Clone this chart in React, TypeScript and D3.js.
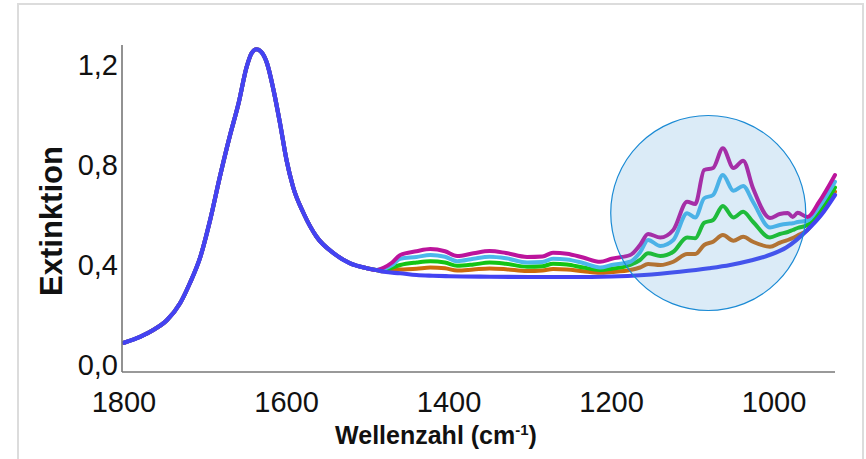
import React from "react";
import * as d3 from "d3";

// Shared band (Amide region) – all spectra coincide here
const commonWn = [1800, 1780, 1764, 1747, 1731, 1719, 1706, 1694, 1682, 1670, 1659, 1649, 1643, 1637, 1631, 1624, 1616, 1608, 1600, 1592, 1579, 1563, 1542, 1522, 1501, 1490];
const commonExt = [0.089, 0.113, 0.14, 0.18, 0.247, 0.327, 0.433, 0.58, 0.753, 0.913, 1.047, 1.193, 1.247, 1.263, 1.252, 1.207, 1.10, 0.967, 0.82, 0.713, 0.607, 0.513, 0.447, 0.407, 0.387, 0.38];

// Tail wavenumbers for the four coloured spectra
const tailWn = [1480, 1470, 1460, 1440, 1423, 1405, 1390, 1370, 1350, 1330, 1304, 1285, 1272, 1255, 1235, 1214, 1200, 1177, 1165, 1155, 1140, 1124, 1107, 1097, 1086, 1075, 1063, 1050, 1038, 1026, 1005, 993, 983, 977, 971, 959, 945, 925];
const magentaTail = [0.39, 0.41, 0.44, 0.455, 0.464, 0.455, 0.436, 0.447, 0.456, 0.448, 0.432, 0.434, 0.449, 0.445, 0.43, 0.413, 0.425, 0.44, 0.48, 0.524, 0.51, 0.54, 0.653, 0.644, 0.78, 0.788, 0.867, 0.788, 0.817, 0.708, 0.588, 0.604, 0.608, 0.592, 0.609, 0.592, 0.65, 0.76];
const lightBlueTail = [0.385, 0.40, 0.425, 0.432, 0.44, 0.433, 0.415, 0.425, 0.433, 0.427, 0.41, 0.412, 0.425, 0.422, 0.408, 0.39, 0.40, 0.413, 0.45, 0.50, 0.476, 0.50, 0.607, 0.59, 0.667, 0.68, 0.76, 0.697, 0.716, 0.653, 0.55, 0.56, 0.565, 0.567, 0.572, 0.577, 0.63, 0.733];
const greenTail = [0.378, 0.39, 0.40, 0.41, 0.415, 0.41, 0.397, 0.402, 0.41, 0.405, 0.393, 0.395, 0.405, 0.402, 0.39, 0.38, 0.385, 0.40, 0.42, 0.447, 0.436, 0.453, 0.51, 0.507, 0.569, 0.58, 0.636, 0.59, 0.613, 0.573, 0.51, 0.524, 0.532, 0.54, 0.548, 0.56, 0.61, 0.71];
const orangeTail = [0.375, 0.38, 0.382, 0.385, 0.39, 0.387, 0.378, 0.382, 0.386, 0.383, 0.376, 0.378, 0.384, 0.382, 0.375, 0.369, 0.372, 0.38, 0.39, 0.404, 0.40, 0.413, 0.444, 0.444, 0.48, 0.493, 0.52, 0.497, 0.513, 0.493, 0.473, 0.489, 0.50, 0.508, 0.518, 0.54, 0.60, 0.693];

// Reference (blue) spectrum tail
const blueTailWn = [1480, 1460, 1440, 1420, 1400, 1350, 1300, 1250, 1200, 1160, 1116, 1080, 1054, 1030, 1009, 985, 959, 942, 925];
const blueTail = [0.373, 0.367, 0.36, 0.357, 0.355, 0.353, 0.352, 0.352, 0.354, 0.36, 0.373, 0.387, 0.40, 0.417, 0.436, 0.47, 0.54, 0.60, 0.68];

const xTicks = [1800, 1600, 1400, 1200, 1000];
const yTicks = [0, 0.4, 0.8, 1.2];
const yTickLabels = ["0,0", "0,4", "0,8", "1,2"];

// Highlight circle (annotation) in data units
const highlightWn = 1081;
const highlightExt = 0.608;
const highlightRadiusWn = 120;

const seriesDefs = [
  { name: "orange", wn: tailWn, ext: orangeTail, color: "#cc6a0c" },
  { name: "green", wn: tailWn, ext: greenTail, color: "#14c414" },
  { name: "lightblue", wn: tailWn, ext: lightBlueTail, color: "#4cb8ec" },
  { name: "magenta", wn: tailWn, ext: magentaTail, color: "#bc149c" },
  { name: "blue", wn: blueTailWn, ext: blueTail, color: "#4343f2" },
];

export default function App() {
  const W = 866, H = 459;
  const x = d3.scaleLinear().domain([1800, 925]).range([124, 835]);
  const y = d3.scaleLinear().domain([-0.028, 1.28]).range([372, 45]);

  const line = d3
    .line<[number, number]>()
    .x((d) => x(d[0]))
    .y((d) => y(d[1]))
    .curve(d3.curveMonotoneX);

  const series = seriesDefs.map((s) => {
    const pts: [number, number][] = commonWn.map((w, i) => [w, commonExt[i]] as [number, number]);
    s.wn.forEach((w, i) => pts.push([w, s.ext[i]]));
    pts.sort((a, b) => b[0] - a[0]);
    return { ...s, d: line(pts) || "" };
  });

  const cx = x(highlightWn);
  const cy = y(highlightExt);
  const r = Math.abs(x(highlightWn - highlightRadiusWn) - x(highlightWn));

  const font = "'Liberation Sans', Arial, Helvetica, sans-serif";
  const axisColor = "#777777";
  const x0 = x.range()[0] - 2;
  const x1 = x.range()[1];
  const yBottom = y.range()[0];
  const yTop = y.range()[1];

  return (
    <svg
      width={W}
      height={H}
      style={{ position: "absolute", left: 0, top: 0, background: "#ffffff" }}
      fontFamily={font}
    >
      <rect x={0} y={0} width={W} height={H} fill="#ffffff" />
      <rect x={18} y={4} width={845} height={H + 20} fill="none" stroke="#dcdcdc" strokeWidth={2} />

      {series.map((s) => (
        <path
          key={s.name}
          d={s.d}
          fill="none"
          stroke={s.color}
          strokeWidth={s.name === "blue" ? 4.2 : 4}
          strokeLinejoin="round"
          strokeLinecap="round"
        />
      ))}

      <circle cx={cx} cy={cy} r={r} fill="rgba(74,154,216,0.2)" stroke="#1a8ad4" strokeWidth={1.2} />

      <line x1={x0} x2={x0} y1={yTop} y2={yBottom} stroke={axisColor} strokeWidth={1.6} />
      <line x1={x0} x2={x1} y1={yBottom} y2={yBottom} stroke={axisColor} strokeWidth={1.6} />

      {yTicks.map((t, i) => (
        <text key={t} x={118} y={y(t) + 10} textAnchor="end" fontSize={29} fill="#111">
          {yTickLabels[i]}
        </text>
      ))}
      {xTicks.map((t) => (
        <text key={t} x={x(t)} y={411.5} textAnchor="middle" fontSize={29} fill="#111">
          {t}
        </text>
      ))}

      <text x={436} y={444} textAnchor="middle" fontSize={25} fontWeight="bold" fill="#111">
        Wellenzahl (cm
        <tspan fontSize={15} dy={-9}>-1</tspan>
        <tspan dy={9}>)</tspan>
      </text>
      <text
        transform={`translate(61.5, 221) rotate(-90)`}
        textAnchor="middle"
        fontSize={31}
        fontWeight="bold"
        fill="#111"
      >
        Extinktion
      </text>
    </svg>
  );
}
